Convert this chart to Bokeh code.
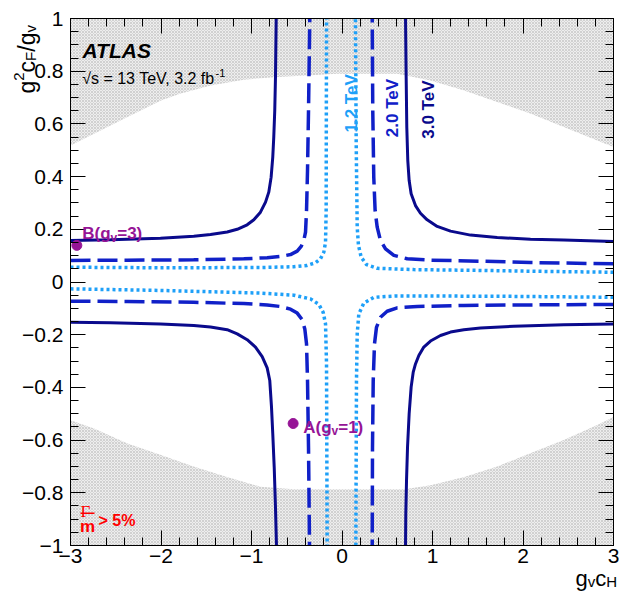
import numpy as np
from bokeh.plotting import figure
from bokeh.models import Range1d, FixedTicker, LinearAxis, Label, BoxAnnotation
from bokeh.embed import file_html
from bokeh.resources import INLINE

nan = float("nan")

# ---------------- data ----------------
# 3.0 TeV (solid): upper-left | upper-right | lower-left | lower-right branches
x_3tev = [-3.0, -2.558, -2.006, -1.638, -1.453, -1.269, -1.158, -1.048, -0.974, -0.901, -0.845, -0.809, -0.783, -0.765, -0.754, -0.743, -0.735, -0.727, nan,
          3.0, 2.451, 2.083, 1.715, 1.420, 1.199, 1.052, 0.941, 0.867, 0.812, 0.764, 0.742, 0.727, 0.716, 0.709, 0.702, nan,
          -3.0, -2.558, -2.006, -1.638, -1.453, -1.269, -1.158, -1.048, -0.956, -0.882, -0.827, -0.798, -0.779, -0.765, -0.749, -0.735, -0.724, nan,
          3.0, 2.451, 1.898, 1.530, 1.346, 1.199, 1.088, 0.978, 0.904, 0.849, 0.812, 0.787, 0.764, 0.742, 0.724, 0.713, 0.705, 0.702]
y_3tev = [0.1575, 0.160, 0.166, 0.174, 0.180, 0.190, 0.200, 0.217, 0.236, 0.265, 0.303, 0.341, 0.398, 0.474, 0.550, 0.651, 0.777, 1.0, nan,
          0.154, 0.159, 0.162, 0.169, 0.178, 0.193, 0.211, 0.236, 0.261, 0.290, 0.335, 0.385, 0.461, 0.587, 0.777, 1.0, nan,
          -0.1525, -0.155, -0.159, -0.165, -0.171, -0.181, -0.197, -0.219, -0.247, -0.283, -0.326, -0.374, -0.475, -0.576, -0.703, -0.855, -1.0, nan,
          -0.159, -0.162, -0.168, -0.175, -0.181, -0.190, -0.203, -0.224, -0.247, -0.279, -0.311, -0.342, -0.399, -0.500, -0.627, -0.753, -0.880, -1.0]

# 2.0 TeV (dashed)
x_2tev = [-3.0, -2.374, -1.638, -1.085, -0.827, -0.680, -0.569, -0.495, -0.451, -0.422, -0.403, -0.392, -0.381, -0.370, -0.356, nan,
          3.0, 2.083, 1.530, 0.978, 0.720, 0.573, 0.481, 0.425, 0.389, 0.366, 0.351, 0.340, 0.334, nan,
          -3.0, -2.374, -1.638, -1.085, -0.827, -0.680, -0.569, -0.495, -0.440, -0.411, -0.392, -0.381, -0.370, -0.359, nan,
          3.0, 2.083, 1.346, 0.831, 0.610, 0.499, 0.425, 0.381, 0.359, 0.345, 0.337, 0.334]
y_2tev = [0.082, 0.083, 0.084, 0.088, 0.092, 0.097, 0.104, 0.117, 0.135, 0.158, 0.189, 0.271, 0.423, 0.651, 1.0, nan,
          0.069, 0.074, 0.079, 0.083, 0.088, 0.101, 0.126, 0.158, 0.208, 0.271, 0.398, 0.651, 1.0, nan,
          -0.073, -0.074, -0.077, -0.082, -0.087, -0.093, -0.103, -0.118, -0.143, -0.178, -0.235, -0.374, -0.627, -1.0, nan,
          -0.085, -0.087, -0.089, -0.093, -0.098, -0.111, -0.134, -0.172, -0.235, -0.374, -0.627, -1.0]

# 1.2 TeV (dotted)
x_1tev = [-3.0, -2.006, -0.901, -0.533, -0.385, -0.293, -0.238, -0.201, -0.182, -0.175, -0.171, nan,
          3.0, 2.267, 1.530, 0.794, 0.389, 0.271, 0.212, 0.182, 0.168, 0.157, 0.149, nan,
          -3.0, -2.006, -0.901, -0.533, -0.348, -0.256, -0.208, -0.182, -0.171, -0.164, nan,
          3.0, 1.715, 0.610, 0.351, 0.241, 0.186, 0.168, 0.160, 0.153]
y_1tev = [0.056, 0.054, 0.055, 0.058, 0.063, 0.073, 0.088, 0.113, 0.151, 0.271, 1.0, nan,
          0.037, 0.040, 0.044, 0.047, 0.052, 0.066, 0.094, 0.139, 0.208, 0.524, 1.0, nan,
          -0.026, -0.032, -0.042, -0.050, -0.064, -0.085, -0.115, -0.159, -0.310, -1.0, nan,
          -0.058, -0.054, -0.053, -0.058, -0.080, -0.121, -0.197, -0.374, -1.0]

# region with Gamma/m < 5% (white): upper edge left->right, lower edge right->left
ok_upper_x = [-3.0, -2.74, -2.37, -2.0, -1.79, -1.45, -1.085, -0.75, -0.05, 0.61, 0.978, 1.35, 1.715, 2.08, 2.45, 2.82, 3.0]
ok_upper_y = [0.518, 0.563, 0.626, 0.689, 0.714, 0.746, 0.768, 0.777, 0.79, 0.79, 0.765, 0.727, 0.683, 0.639, 0.588, 0.537, 0.512]
ok_lower_x = [3.0, 2.82, 2.45, 2.08, 1.715, 1.35, 0.978, 0.69, 0.0, -0.53, -0.90, -1.27, -1.64, -2.0, -2.37, -2.74, -3.0]
ok_lower_y = [-0.512, -0.543, -0.60, -0.65, -0.70, -0.74, -0.771, -0.787, -0.787, -0.787, -0.777, -0.74, -0.70, -0.657, -0.613, -0.556, -0.525]

# benchmark points
bench_names = ["B", "A"]
bench_gv = ["3", "1"]
bench_x = [-2.93, -0.54]
bench_y = [0.139, -0.537]

mass_labels = ["1.2 TeV", "2.0 TeV", "3.0 TeV"]

x_ticks = [-3, -2, -1, 0, 1, 2, 3]
x_tick_labels = ["\u22123", "\u22122", "\u22121", "0", "1", "2", "3"]
x_minor = [round(-3 + 0.2 * i, 2) for i in range(31)]
y_ticks = [-1.0, -0.8, -0.6, -0.4, -0.2, 0.0, 0.2, 0.4, 0.6, 0.8, 1.0]
y_tick_labels = ["\u22121", "\u22120.8", "\u22120.6", "\u22120.4", "\u22120.2", "0", "0.2", "0.4", "0.6", "0.8", "1"]
y_minor = [round(-1 + 0.05 * i, 3) for i in range(41)]

X0, X1, Y0, Y1 = -3.0, 3.0, -1.0, 1.0

# ---------------- styling / layout ----------------
C12 = "#1ea0f8"
C20 = "#1020c8"
C30 = "#0a0a8c"
PURPLE = "#961496"
RED = "#ff0000"
FONT = "Liberation Sans"

W, H = 619, 593
# the plotting box [-3,3]x[-1,1] inside the canvas (canvas pixels)
BOX_L, BOX_R, BOX_T, BOX_B = 70, 613, 18, 545
sx_per = (X1 - X0) / (BOX_R - BOX_L)
sy_per = (Y1 - Y0) / (BOX_B - BOX_T)
xr = Range1d(X0 - BOX_L * sx_per, X1 + (W - BOX_R) * sx_per)
yr = Range1d(Y0 - (H - BOX_B) * sy_per, Y1 + BOX_T * sy_per)

# picture pixel -> data
def rx(px):
    return X0 + (px - BOX_L) * sx_per
def ry(py):
    return Y1 - (py - BOX_T) * sy_per

p = figure(width=W, height=H, x_range=xr, y_range=yr,
           output_backend="svg", toolbar_location=None,
           x_axis_location=None, y_axis_location=None,
           min_border=0, min_border_left=0, min_border_right=0,
           min_border_top=0, min_border_bottom=0)
p.grid.visible = False
p.outline_line_color = None
p.background_fill_color = "white"
p.border_fill_color = "white"

p.add_layout(BoxAnnotation(left=X0, right=X1, bottom=Y0, top=Y1,
                           fill_color="#eeeeee", fill_alpha=1.0, line_color=None,
                           hatch_pattern="x", hatch_scale=3, hatch_color="#c4c4c4",
                           hatch_weight=0.7, level="underlay"))
p.patch(ok_upper_x + ok_lower_x, ok_upper_y + ok_lower_y, fill_color="white", line_color=None)

p.line(x_1tev, y_1tev, line_color=C12, line_width=3.5, line_dash="3 3")
p.line(x_2tev, y_2tev, line_color=C20, line_width=3.5, line_dash="20 7")
p.line(x_3tev, y_3tev, line_color=C30, line_width=3)

p.scatter(bench_x, bench_y, size=10, marker="circle", fill_color=PURPLE, line_color=PURPLE)

def add_axis(side, fixed, bounds, ticks, minor, labels, show, standoff=5):
    ax = LinearAxis(fixed_location=fixed, bounds=bounds)
    ax.ticker = FixedTicker(ticks=ticks, minor_ticks=minor)
    ax.major_tick_in = 15
    ax.major_tick_out = 0
    ax.minor_tick_in = 8
    ax.minor_tick_out = 0
    ax.axis_line_color = "black"
    ax.axis_line_width = 1
    ax.major_tick_line_color = "black"
    ax.minor_tick_line_color = "black"
    ax.major_label_text_font = FONT
    ax.major_label_text_color = "black"
    ax.major_label_overrides = dict(zip(ticks, labels if show else [""] * len(ticks)))
    ax.major_label_text_font_size = "21px"
    ax.major_label_standoff = standoff
    p.add_layout(ax, side)
    return ax

add_axis("below", Y0, (X0, X1), x_ticks, x_minor, x_tick_labels, True, standoff=3)
add_axis("left", X0, (Y0, Y1), y_ticks, y_minor, y_tick_labels, True, standoff=7)
add_axis("above", Y1, (X0, X1), x_ticks, x_minor, x_tick_labels, False)
add_axis("right", X1, (Y0, Y1), y_ticks, y_minor, y_tick_labels, False)

def lab(text, x, y, size, color="black", style="normal", font=FONT, angle=0.0, xo=0, yo=0):
    p.add_layout(Label(x=x, y=y, text=text, text_font=font, text_font_size=f"{size}px",
                       text_color=color, text_font_style=style, angle=angle,
                       text_align="left", text_baseline="alphabetic",
                       x_offset=xo, y_offset=yo))

# ATLAS block
lab("ATLAS", rx(82), ry(50), 21, style="bold italic")
lab("\u221as = 13 TeV, 3.2 fb", rx(81.7), ry(78), 16)
lab("-1", rx(215), ry(72), 11)

ang = np.pi / 2
lab(mass_labels[0], rx(351), ry(132), 17, color=C12, style="bold", angle=ang)
lab(mass_labels[1], rx(391.7), ry(136.7), 17, color=C20, style="bold", angle=ang)
lab(mass_labels[2], rx(428.3), ry(138.3), 17, color=C30, style="bold", angle=ang)

bl = [(rx(81.7), ry(233.3)), (rx(302.7), ry(426.7))]
for name, gv, (lx, ly) in zip(bench_names, bench_gv, bl):
    lab(name + "(g", lx, ly, 17, color=PURPLE, style="bold")
    lab("v", lx, ly, 12, color=PURPLE, style="bold", xo=28.3, yo=-4)
    lab("=" + gv + ")", lx, ly, 17, color=PURPLE, style="bold", xo=35)

lab("\u0393", rx(80), ry(511), 17, color=RED, font="Liberation Serif")
p.segment(x0=[rx(80)], y0=[ry(512.8)], x1=[rx(94)], y1=[ry(512.8)], line_color=RED, line_width=1.5)
lab("m", rx(79.5), ry(525.5), 17, color=RED, style="bold")
lab("> 5%", rx(98), ry(520), 16, color=RED, style="bold")

# y title  g^2 c_F / g_v  (rotated, reading upwards)
bx = 26
for txt, sz, dxp, py in [("g", 23, 0, 93), ("2", 15, -8, 80.2), ("c", 23, 0, 71.9),
                         ("F", 15, 4, 60.4), ("/", 23, 0, 51.2), ("g", 23, 0, 44.8),
                         ("v", 15, 4, 32.0)]:
    lab(txt, rx(bx + dxp), ry(py), sz, angle=ang)

# x title  g_v c_H
by = 578
for txt, sz, px, py in [("g", 22, 575, by), ("v", 15, 587.2, by + 3),
                         ("c", 22, 594.7, by), ("H", 15, 605.7, by + 3)]:
    lab(txt, rx(px), ry(py), sz)

open("out.html", "w").write(file_html(p, INLINE))
